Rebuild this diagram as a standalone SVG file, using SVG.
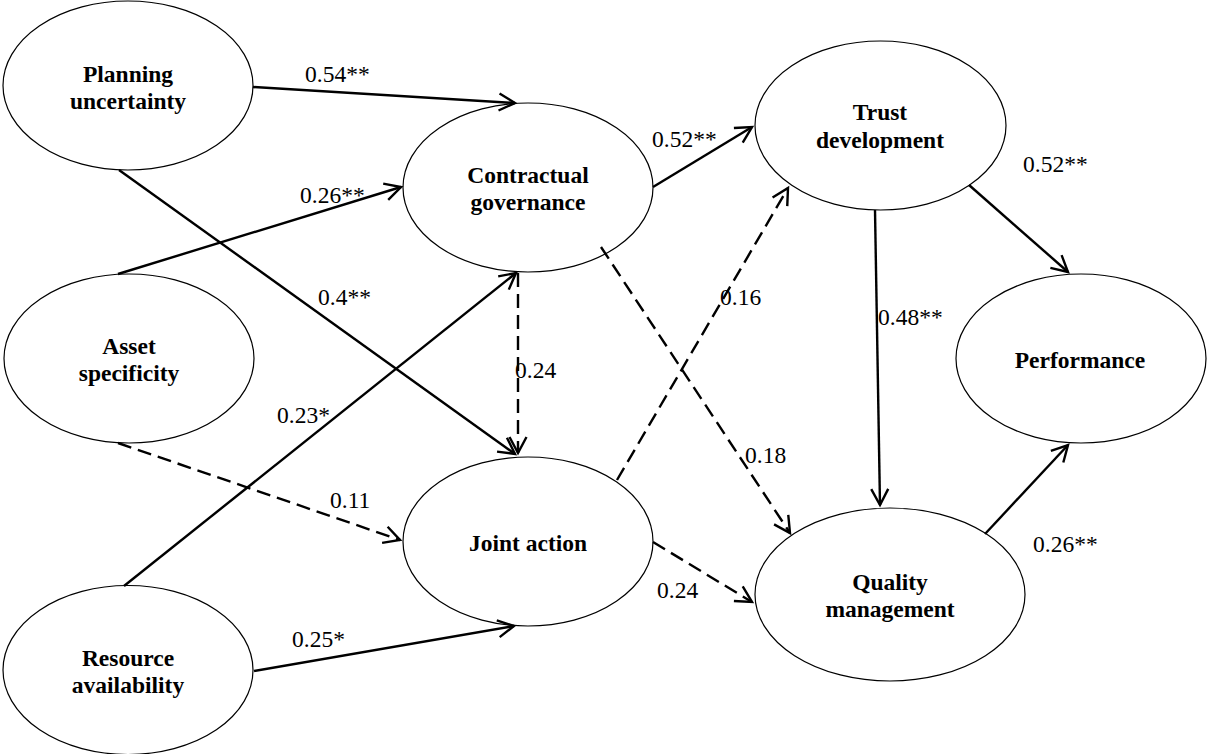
<svg xmlns="http://www.w3.org/2000/svg" width="1207" height="754" viewBox="0 0 1207 754">
  <defs>
    <style>
      .node ellipse { fill: #fff; stroke: #000; stroke-width: 1.2; }
      .node text { font-family: "Liberation Serif", "Times New Roman", serif; font-weight: bold; font-size: 23.5px; fill: #000; text-anchor: middle; }
      .edge { fill: none; stroke: #000; stroke-width: 2.4; marker-end: url(#arrow); }
      .dash { stroke-dasharray: 14 7; }
      .lbl { font-family: "Liberation Serif", "Times New Roman", serif; font-size: 23.5px; fill: #000; }
    </style>
    <marker id="arrow" viewBox="-20 -12 24 24" refX="0" refY="0" markerWidth="24" markerHeight="24" markerUnits="userSpaceOnUse" orient="auto">
      <path d="M-16,-8.5 L0,0 L-16,8.5" fill="none" stroke="#000" stroke-width="2.4" stroke-linejoin="miter"/>
    </marker>
  </defs>

  <rect width="1207" height="754" fill="#fff"/>

  <g id="planning-uncertainty" class="node">
    <ellipse cx="128" cy="85.5" rx="125" ry="84.5"/>
    <text x="128" y="82">Planning</text>
    <text x="128" y="108.5">uncertainty</text>
  </g>
  <g id="asset-specificity" class="node">
    <ellipse cx="129" cy="358.5" rx="125" ry="84.5"/>
    <text x="129" y="354">Asset</text>
    <text x="129" y="381">specificity</text>
  </g>
  <g id="resource-availability" class="node">
    <ellipse cx="128" cy="670" rx="125" ry="84.5"/>
    <text x="128" y="666">Resource</text>
    <text x="128" y="693">availability</text>
  </g>
  <g id="contractual-governance" class="node">
    <ellipse cx="528" cy="187.5" rx="125" ry="84.5"/>
    <text x="528" y="183">Contractual</text>
    <text x="528" y="210">governance</text>
  </g>
  <g id="joint-action" class="node">
    <ellipse cx="528" cy="541.5" rx="125" ry="84.5"/>
    <text x="528" y="551">Joint action</text>
  </g>
  <g id="trust-development" class="node">
    <ellipse cx="880.5" cy="125.5" rx="125.5" ry="84.5"/>
    <text x="880" y="120">Trust</text>
    <text x="880" y="148">development</text>
  </g>
  <g id="quality-management" class="node">
    <ellipse cx="890" cy="594.5" rx="135" ry="86.5"/>
    <text x="890" y="590">Quality</text>
    <text x="890" y="617">management</text>
  </g>
  <g id="performance" class="node">
    <ellipse cx="1081" cy="358.5" rx="125" ry="84.5"/>
    <text x="1080" y="368">Performance</text>
  </g>

  <g id="connectors">
    <!-- solid paths: significant effects -->
    <line class="edge" x1="253" y1="87" x2="515" y2="103"/>
    <line class="edge" x1="118" y1="274" x2="401" y2="187"/>
    <line class="edge" x1="119" y1="170" x2="515" y2="454"/>
    <line class="edge" x1="124" y1="586" x2="516" y2="273"/>
    <line class="edge" x1="254" y1="671" x2="514" y2="626"/>
    <line class="edge" x1="653" y1="187" x2="752" y2="127"/>
    <line class="edge" x1="875" y1="210" x2="880" y2="505"/>
    <line class="edge" x1="969" y1="185" x2="1068" y2="272"/>
    <line class="edge" x1="985" y1="534" x2="1068" y2="445"/>
    <!-- dashed paths: non-significant effects -->
    <line class="edge dash" x1="518" y1="273" x2="518" y2="453"/>
    <line class="edge dash" x1="118" y1="443" x2="400" y2="540"/>
    <line class="edge dash" x1="617" y1="480" x2="788" y2="188"/>
    <line class="edge dash" x1="601" y1="247" x2="790" y2="533"/>
    <line class="edge dash" x1="653" y1="542" x2="752" y2="602"/>

    <text class="lbl" x="305" y="82">0.54**</text>
    <text class="lbl" x="300" y="203">0.26**</text>
    <text class="lbl" x="318" y="305">0.4**</text>
    <text class="lbl" x="277" y="423">0.23*</text>
    <text class="lbl" x="515" y="378">0.24</text>
    <text class="lbl" x="330" y="508">0.11</text>
    <text class="lbl" x="292" y="647">0.25*</text>
    <text class="lbl" x="652" y="147">0.52**</text>
    <text class="lbl" x="720" y="305">0.16</text>
    <text class="lbl" x="745" y="463">0.18</text>
    <text class="lbl" x="657" y="598">0.24</text>
    <text class="lbl" x="878" y="325">0.48**</text>
    <text class="lbl" x="1023" y="172">0.52**</text>
    <text class="lbl" x="1033" y="552">0.26**</text>
  </g>
</svg>
